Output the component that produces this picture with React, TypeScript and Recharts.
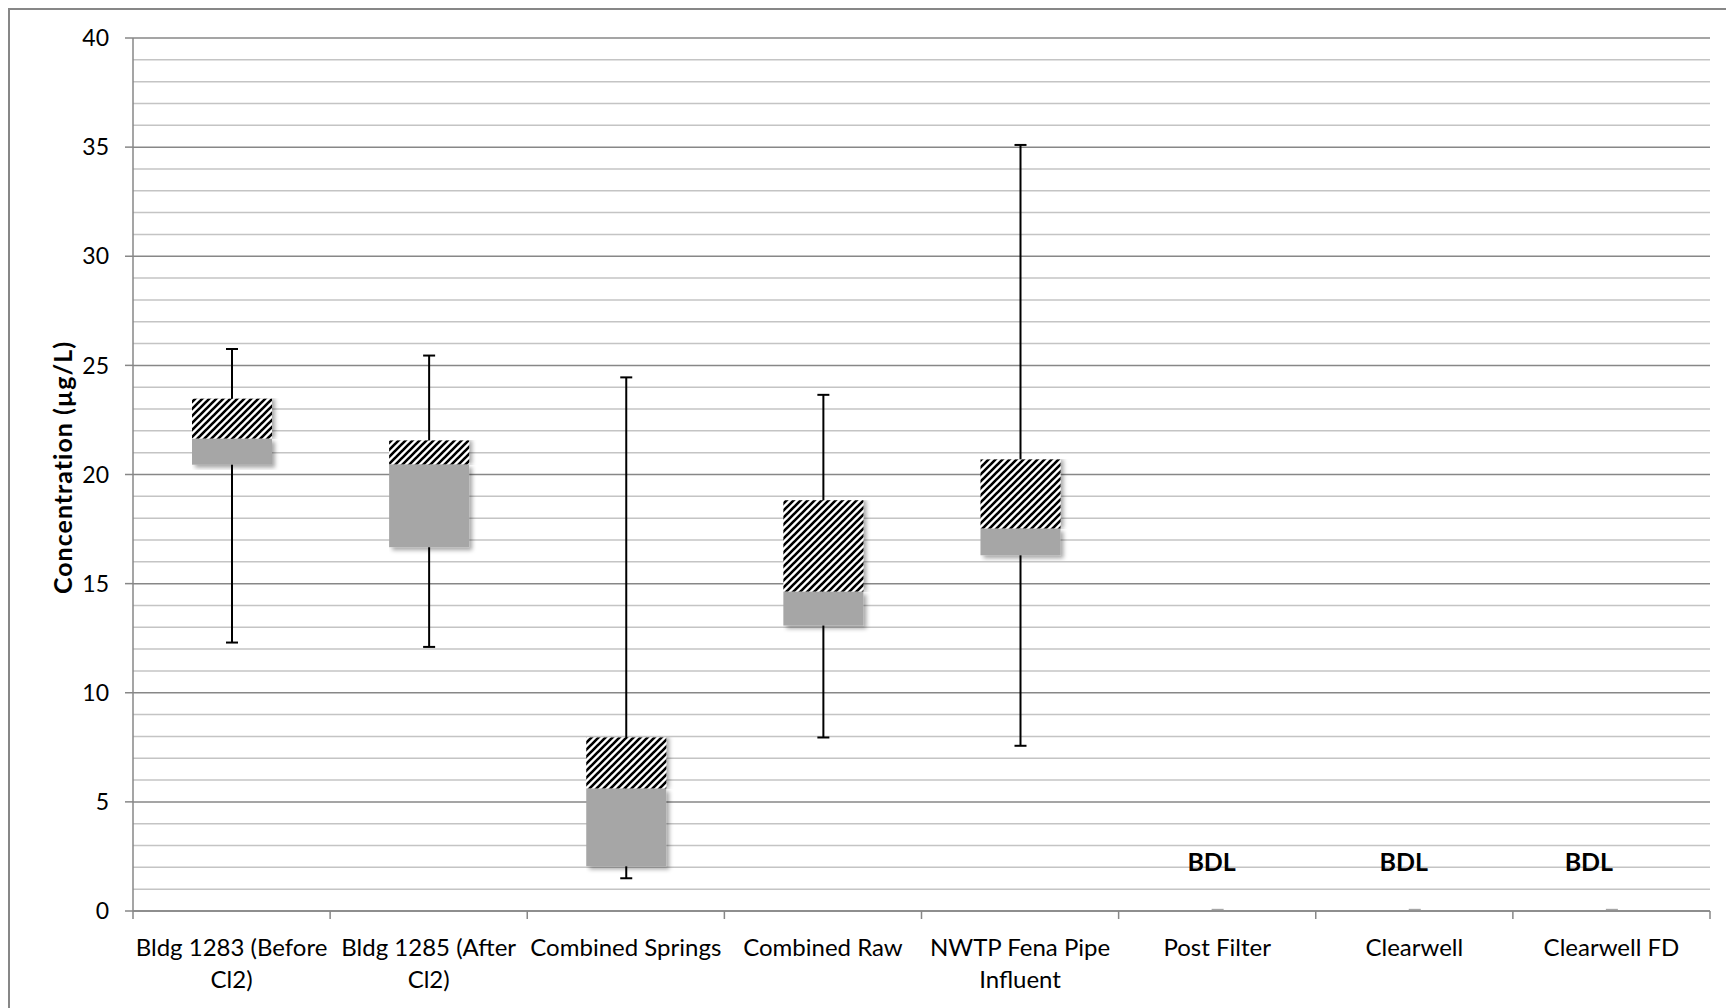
import React from 'react';
import { ComposedChart, Bar, XAxis, YAxis, CartesianGrid, LabelList } from 'recharts';

// sampling sites (x axis) and how their tick labels wrap
const categories = [
  'Bldg 1283 (Before Cl2)',
  'Bldg 1285 (After Cl2)',
  'Combined Springs',
  'Combined Raw',
  'NWTP Fena Pipe Influent',
  'Post Filter',
  'Clearwell',
  'Clearwell FD',
];
const categoryLines = [
  ['Bldg 1283 (Before', 'Cl2)'],
  ['Bldg 1285 (After', 'Cl2)'],
  ['Combined Springs'],
  ['Combined Raw'],
  ['NWTP Fena Pipe', 'Influent'],
  ['Post Filter'],
  ['Clearwell'],
  ['Clearwell FD'],
];

// box plot statistics, µg/L (null = below detection limit)
const minValues = [12.3, 12.1, 1.5, 7.95, 7.57, null, null, null];
const q1Values = [20.45, 16.67, 2.05, 13.08, 16.3, null, null, null];
const medianValues = [21.65, 20.47, 5.62, 14.64, 17.53, null, null, null];
const q3Values = [23.47, 21.56, 7.95, 18.82, 20.69, null, null, null];
const maxValues = [25.75, 25.45, 24.45, 23.65, 35.1, null, null, null];

// BDL markers
const bdlMarks = [null, null, null, null, null, 0.1, 0.1, 0.1];
const bdlLabels = ['', '', '', '', '', 'BDL', 'BDL', 'BDL'];

const majorTicks = [0, 5, 10, 15, 20, 25, 30, 35, 40];
const minorTicks = [1, 2, 3, 4, 6, 7, 8, 9, 11, 12, 13, 14, 16, 17, 18, 19, 21, 22, 23, 24, 26, 27, 28, 29, 31, 32, 33, 34, 36, 37, 38, 39];

const FONT = 'Lato';
const AXIS_GREY = '#878787';
const BOX_GREY = '#a6a6a6';
const bdlNudge = [0, 0, 0, 0, 0, -6, -11, -23];

const data = categories.map((name, i) => {
  const q1 = q1Values[i];
  const med = medianValues[i];
  const q3 = q3Values[i];
  const lo = minValues[i];
  const hi = maxValues[i];
  return {
    name,
    base: q1 ?? 0,
    lowerBox: q1 != null && med != null ? med - q1 : 0,
    upperBox: med != null && q3 != null ? q3 - med : 0,
    whisker: lo != null && hi != null ? [lo, hi] : null,
    bdl: bdlMarks[i],
    bdlLabel: bdlLabels[i],
  };
});

const WhiskerShape = (props: any) => {
  const { x, y, width, height, payload } = props;
  if (!payload?.whisker || !isFinite(y) || !isFinite(height)) return null;
  const cx = x + width / 2;
  const top = Math.min(y, y + height);
  const bottom = Math.max(y, y + height);
  return (
    <g stroke="#000" strokeWidth={2}>
      <line x1={cx} x2={cx} y1={top} y2={bottom} />
      <line x1={cx - 6} x2={cx + 6} y1={top} y2={top} />
      <line x1={cx - 6} x2={cx + 6} y1={bottom} y2={bottom} />
    </g>
  );
};

const boxShape = (fill: string, filter: string) => (props: any) => {
  const { x, y, width, height } = props;
  if (!height || height <= 0) return null;
  return <rect x={x} y={y} width={width} height={height} fill={fill} filter={filter} />;
};

const DashShape = (props: any) => {
  const { x, y, width, height, payload } = props;
  if (!payload?.bdl) return null;
  const cx = x + width / 2;
  return <rect x={cx - 6} y={y} width={12} height={Math.max(height, 2)} fill={BOX_GREY} />;
};

// category label + tick marks on the band edges (Excel style)
const CategoryTick = ({ x, y, payload, index }: any) => {
  const idx = categories.indexOf(payload.value);
  const lines = categoryLines[idx] ?? [payload.value];
  const half = payload.offset ?? 0;
  return (
    <g>
      <line x1={x - half} x2={x - half} y1={y} y2={y + 8} stroke={AXIS_GREY} strokeWidth={1.5} />
      {index === categories.length - 1 && (
        <line x1={x + half} x2={x + half} y1={y} y2={y + 8} stroke={AXIS_GREY} strokeWidth={1.5} />
      )}
      <text x={x} y={y} textAnchor="middle" fontFamily={FONT} fontSize={24} fill="#000">
        {lines.map((l, i) => (
          <tspan key={i} x={x} dy={i === 0 ? 45 : 32}>{l}</tspan>
        ))}
      </text>
    </g>
  );
};

const BdlLabel = (props: any) => {
  const { x, y, width, value, index } = props;
  if (!value) return null;
  return (
    <text
      x={x + width / 2 + (bdlNudge[index] ?? 0)}
      y={y - 38}
      textAnchor="middle"
      fontFamily={FONT}
      fontWeight={700}
      fontSize={25}
      fill="#000"
    >
      {value}
    </text>
  );
};

const YTitle = (props: any) => {
  const vb = props.viewBox;
  const cx = 52;
  const cy = vb.y + vb.height / 2 - 7;
  return (
    <text
      x={cx}
      y={cy}
      transform={`rotate(-90, ${cx}, ${cy})`}
      textAnchor="middle"
      dominantBaseline="central"
      fontFamily={FONT}
      fontWeight={700}
      fontSize={25}
      letterSpacing={1}
      fill="#000"
    >
      Concentration (µg/L)
    </text>
  );
};

export default function App() {
  return (
    <div
      style={{
        width: 1726,
        height: 1000,
        borderTop: `2px solid ${AXIS_GREY}`,
        borderLeft: `2px solid ${AXIS_GREY}`,
        boxSizing: 'border-box',
        background: '#fff',
      }}
    >
      <ComposedChart
        width={1724}
        height={998}
        data={data}
        margin={{ top: 28, right: 24, left: 0, bottom: 9 }}
        barCategoryGap={0}
      >
        <defs>
          <pattern id="hatch" width={7} height={7} patternUnits="userSpaceOnUse">
            <rect width={7} height={7} fill="#fff" />
            <path d="M-2,2 L2,-2 M0,7 L7,0 M5,9 L9,5" stroke="#000" strokeWidth={2.6} />
          </pattern>
          <filter id="shadowLow" x="0" y="0" width="1.12" height="1.2">
            <feDropShadow dx={3} dy={3} stdDeviation={2} floodColor="#000" floodOpacity={0.35} />
          </filter>
          <filter id="shadowHigh" x="0" y="0" width="1.12" height="1">
            <feDropShadow dx={3} dy={0} stdDeviation={2} floodColor="#000" floodOpacity={0.35} />
          </filter>
        </defs>

        <CartesianGrid horizontalValues={minorTicks} vertical={false} stroke="#c4c4c4" strokeWidth={1.5} />
        <CartesianGrid horizontalValues={majorTicks} vertical={false} stroke={AXIS_GREY} strokeWidth={1.5} />

        <XAxis
          xAxisId="cat"
          dataKey="name"
          interval={0}
          axisLine={{ stroke: AXIS_GREY, strokeWidth: 1.5 }}
          tickLine={false}
          tickSize={0}
          tickMargin={0}
          height={88}
          tick={<CategoryTick />}
        />
        <XAxis xAxisId="w" dataKey="name" hide />

        <YAxis
          domain={[0, 40]}
          ticks={majorTicks}
          interval={0}
          width={123}
          tickSize={8}
          tickMargin={16}
          stroke={AXIS_GREY}
          strokeWidth={1.5}
          tick={{ fill: '#000', fontSize: 23, fontFamily: FONT }}
          label={<YTitle />}
        />

        <Bar xAxisId="w" dataKey="whisker" barSize={12} shape={WhiskerShape} isAnimationActive={false} />

        <Bar xAxisId="cat" dataKey="base" stackId="box" barSize={80} fill="transparent" shape={() => null} isAnimationActive={false} />
        <Bar xAxisId="cat" dataKey="lowerBox" stackId="box" barSize={80} shape={boxShape(BOX_GREY, 'url(#shadowLow)')} isAnimationActive={false} />
        <Bar xAxisId="cat" dataKey="upperBox" stackId="box" barSize={80} shape={boxShape('url(#hatch)', 'url(#shadowHigh)')} isAnimationActive={false} />
        <Bar xAxisId="cat" dataKey="bdl" stackId="box" barSize={80} shape={DashShape} isAnimationActive={false}>
          <LabelList dataKey="bdlLabel" content={BdlLabel} />
        </Bar>
      </ComposedChart>
    </div>
  );
}
